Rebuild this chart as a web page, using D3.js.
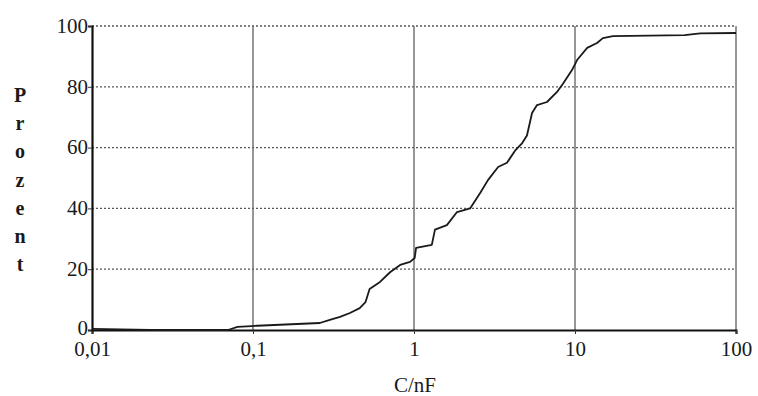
<!DOCTYPE html>
<html>
<head>
<meta charset="utf-8">
<script src="https://cdn.jsdelivr.net/npm/d3@7"></script>
<style>
  body { margin: 0; background: #fff; }
  svg { display: block; }
  svg text { font-family: 'Liberation Serif', serif; }
</style>
</head>
<body>
<svg id="svg"></svg>
<script>
// capacitance in nF and cumulative share in percent
const capacitance = [0.01, 0.023, 0.07, 0.08, 0.106, 0.26, 0.30, 0.347, 0.40, 0.46, 0.50, 0.53, 0.615, 0.71, 0.82, 0.945, 1.01, 1.03, 1.29, 1.35, 1.60, 1.85, 2.23, 2.57, 2.88, 3.33, 3.78, 4.24, 4.7, 5.03, 5.41, 5.81, 6.7, 7.73, 8.42, 9.58, 10.3, 11.9, 13.7, 14.9, 17.2, 48, 60, 100];
const percent = [0.4, 0, 0, 1.0, 1.4, 2.3, 3.3, 4.3, 5.6, 7.2, 9.2, 13.5, 15.8, 19, 21.4, 22.4, 23.7, 27, 28, 33, 34.5, 38.8, 40, 45, 49.3, 53.6, 55, 59, 61.5, 64, 71.4, 74, 75, 78.3, 81, 85.5, 88.8, 92.8, 94.4, 96, 96.7, 97, 97.6, 97.7];
const xTicks = [0.01, 0.1, 1, 10, 100];
const xTickLabels = ['0,01', '0,1', '1', '10', '100'];
const yTicks = [0, 20, 40, 60, 80, 100];
const yLabel = 'Prozent';
const xLabel = 'C/nF';

const W = 758, H = 396;
const margin = { top: 26, right: 22, bottom: 66, left: 92 };
const width = W - margin.left - margin.right;
const height = H - margin.top - margin.bottom;

const svg = d3.select('#svg').attr('width', W).attr('height', H);
const g = svg.append('g').attr('transform', 'translate(' + margin.left + ',' + margin.top + ')');

const x = d3.scaleLog().domain([0.01, 100]).range([0, width]);
const y = d3.scaleLinear().domain([0, 100]).range([height, 0]);

// horizontal dotted grid
g.append('g')
  .selectAll('line')
  .data(yTicks.filter(d => d > 0))
  .join('line')
  .attr('x1', 0).attr('x2', width)
  .attr('y1', d => y(d)).attr('y2', d => y(d))
  .attr('stroke', '#555')
  .attr('stroke-width', 1.3)
  .attr('stroke-dasharray', '2,2');

// vertical solid grid
g.append('g')
  .selectAll('line')
  .data(xTicks.filter(d => d > 0.01))
  .join('line')
  .attr('x1', d => x(d)).attr('x2', d => x(d))
  .attr('y1', 0).attr('y2', height)
  .attr('stroke', '#6a6a6a')
  .attr('stroke-width', 1.4);

const xAxis = d3.axisBottom(x).tickValues(xTicks)
  .tickFormat((d, i) => xTickLabels[i]).tickSize(4).tickPadding(7);
const xg = g.append('g').attr('transform', 'translate(0,' + height + ')').call(xAxis)
  .attr('font-family', null).attr('font-size', 21);
xg.select('.domain').attr('stroke', '#111').attr('stroke-width', 2.2);
xg.selectAll('.tick line').attr('stroke', '#333');
xg.selectAll('.tick text').attr('fill', '#1a1a1a');

const yAxis = d3.axisLeft(y).tickValues(yTicks).tickSize(4).tickPadding(0);
const yg = g.append('g').call(yAxis)
  .attr('font-family', null).attr('font-size', 21);
yg.select('.domain').attr('stroke', '#111').attr('stroke-width', 2.2);
yg.selectAll('.tick line').attr('stroke', '#333');
yg.selectAll('.tick text').attr('dy', d => d === 0 ? '0.2em' : '0.3em').attr('fill', '#1a1a1a');

// the curve
const line = d3.line()
  .x((d, i) => x(capacitance[i]))
  .y(d => y(d));
g.append('path')
  .datum(percent)
  .attr('fill', 'none')
  .attr('stroke', '#1a1a1a')
  .attr('stroke-width', 1.8)
  .attr('stroke-linejoin', 'round')
  .attr('d', line);

// stacked vertical y label
svg.append('g')
  .selectAll('text')
  .data(yLabel.split(''))
  .join('text')
  .attr('x', 20)
  .attr('y', (d, i) => 102 + i * 28.2)
  .attr('text-anchor', 'middle')
  .attr('font-weight', 'bold')
  .attr('font-size', 20)
  .attr('fill', '#1a1a1a')
  .text(d => d);

svg.append('text')
  .attr('x', margin.left + x(1) + 1)
  .attr('y', 392)
  .attr('text-anchor', 'middle')
  .attr('font-size', 21)
  .attr('fill', '#1a1a1a')
  .text(xLabel);
</script>
</body>
</html>
